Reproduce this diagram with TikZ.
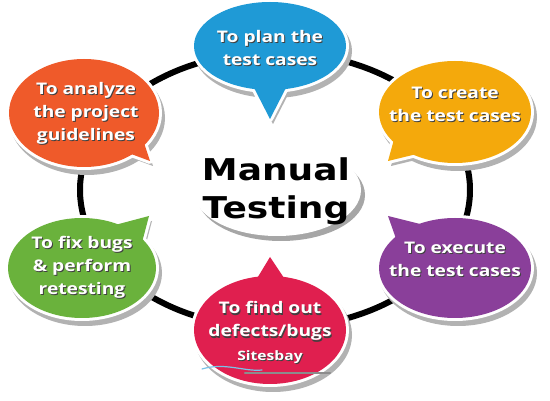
\documentclass[tikz,border=0pt]{standalone}
\usepackage{fontspec}
\newfontfamily\bubblefont[FakeStretch=1.2]{Open Sans Bold}
\newfontfamily\centerfont[FakeStretch=1.2]{DejaVu Sans Bold}
\definecolor{cblue}{HTML}{1F9AD6}
\definecolor{cgold}{HTML}{F4A90C}
\definecolor{cpurple}{HTML}{8A3F9A}
\definecolor{cred}{HTML}{E01F4F}
\definecolor{cgreen}{HTML}{6AB23C}
\definecolor{corange}{HTML}{EF5A2A}
\tikzset{
  ring/.style={line width=6pt, draw=black},
  shade/.style={fill=black!30},
  rim/.style={draw=white, fill=white, line width=6pt, line join=round},
  btext/.style={font=\bubblefont\fontsize{16}{23}\selectfont, text=white, align=center, inner sep=0pt},
  bshadow/.style={btext, text=black!75, xshift=1pt, yshift=-1.5pt},
}
% #1 center, #2 rx, #3 ry, #4 tail path, #5 colour
\newcommand\mybubble[5]{%
  \begin{scope}[shift={(3,5)}]
    \fill[shade] (#1) ellipse [x radius=#2+3, y radius=#3+3];
    \fill[shade] #4;
  \end{scope}
  \path[rim] (#1) ellipse [x radius=#2, y radius=#3];
  \path[rim] #4;
  \fill[#5] (#1) ellipse [x radius=#2, y radius=#3];
  \fill[#5] #4;
}
\begin{document}
\begin{tikzpicture}[x=1pt,y=-1pt]
\useasboundingbox (0,0) rectangle (550,401);
\fill[white] (0,0) rectangle (550,401);
% ring
\draw[ring] (275,190) ellipse [x radius=195, y radius=138];
% centre
\fill[black!35] (281,195) ellipse [x radius=84, y radius=46];
\fill[white] (277,190) ellipse [x radius=84, y radius=46];
\node (mt) [font=\centerfont\fontsize{30}{38}\selectfont, align=center, inner sep=0pt] at (276,191) {Manual\\Testing};
% bubbles
\mybubble{270,46}{76}{44}{(250,80) -- (270,119) -- (290,80) -- cycle}{cblue}
\mybubble{455,112}{76}{51}{(398,125) -- (388,161) -- (425,152) -- cycle}{cgold}
\mybubble{455,268}{76}{50}{(400,250) -- (388,216) -- (428,226) -- cycle}{cpurple}
\mybubble{270,330}{76}{54}{(250,290) -- (270,257) -- (292,290) -- cycle}{cred}
\mybubble{82,268}{74}{50}{(115,225) -- (149,216) -- (140,250) -- cycle}{cgreen}
\mybubble{84,113}{75}{54}{(115,148) -- (150,161) -- (138,125) -- cycle}{corange}
% pen under red bubble
\draw[cblue!60, line width=1.2pt, line cap=round] (202,369) .. controls (225,362) and (245,372) .. (262,370);
\draw[black!45, line width=2.5pt, line cap=round] (245,373) -- (330,373);
% texts
\node[bshadow] at (270,48) {To plan the\\test cases};
\node (plan) [btext] at (270,48) {To plan the\\test cases};
\node[bshadow] at (455,104) {To create\\the test cases};
\node (create) [btext] at (455,104) {To create\\the test cases};
\node[bshadow] at (455,259) {To execute\\the test cases};
\node (exec) [btext] at (455,259) {To execute\\the test cases};
\node[bshadow] at (270,321) {To find out\\defects/bugs};
\node (find) [btext] at (270,321) {To find out\\defects/bugs};
\node[bshadow, font=\bubblefont\fontsize{13}{16}\selectfont] at (270,357) {Sitesbay};
\node (site) [btext, font=\bubblefont\fontsize{13}{16}\selectfont] at (270,357) {Sitesbay};
\node[bshadow] at (82,267) {To fix bugs\\\& perform\\retesting};
\node (fix) [btext] at (82,267) {To fix bugs\\\& perform\\retesting};
\node[bshadow] at (86,113) {To analyze\\the project\\guidelines};
\node (anal) [btext] at (86,113) {To analyze\\the project\\guidelines};
\end{tikzpicture}
\end{document}
